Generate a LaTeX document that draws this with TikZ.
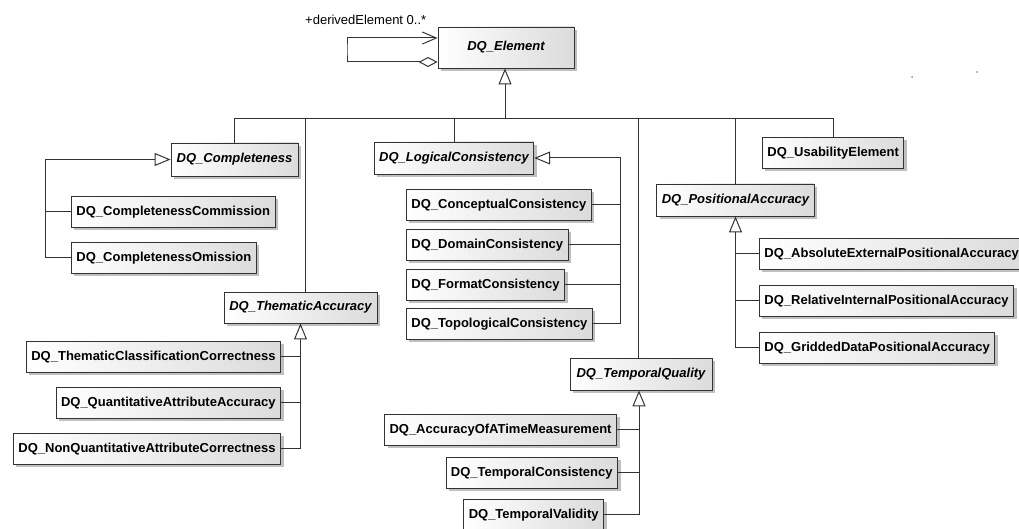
\documentclass[tikz,border=0pt]{standalone}
\usepackage{fontspec}
\setmainfont{Liberation Sans}
\usetikzlibrary{arrows.meta,shadows}
\begin{document}
\begin{tikzpicture}[x=1pt,y=-1pt,
  font=\fontsize{13}{15}\selectfont,
  cls/.style={draw=black!80, line width=0.9pt, left color=white, right color=black!14,
    drop shadow={shadow xshift=3pt, shadow yshift=-3pt, fill=black!45, opacity=0.55},
    minimum height=31pt, inner xsep=5pt, inner ysep=0pt,
    font=\fontsize{13}{15}\selectfont\bfseries},
  abs/.style={cls, font=\fontsize{13}{15}\selectfont\bfseries\itshape},
  link/.style={draw=black!80, line width=1pt},
  gen/.style={link, -{Triangle[open, length=16pt, width=13pt]}},
]
\useasboundingbox (0,0) rectangle (1019,529);
\clip (0,0) rectangle (1019,529);

% abstract classes
\node[abs, minimum width=136pt, minimum height=41pt] (E) at (506,47.5) {DQ\_Element};
\node[abs, minimum width=127pt, minimum height=33pt] (Comp) at (234.5,159.5) {DQ\_Completeness};
\node[abs, minimum width=158pt, minimum height=32pt] (LC) at (454,158) {DQ\_LogicalConsistency};
\node[abs, minimum width=153pt] (TA) at (300.5,307.5) {DQ\_ThematicAccuracy};
\node[abs, minimum width=142pt, minimum height=32pt] (TQ) at (641,374) {DQ\_TemporalQuality};
\node[abs, minimum width=157pt, minimum height=32pt] (PA) at (735.5,200) {DQ\_PositionalAccuracy};

% concrete classes
\node[cls, anchor=north west] (CC) at (71,196) {DQ\_CompletenessCommission};
\node[cls, anchor=north west] (CO) at (71,242) {DQ\_CompletenessOmission};

\node[cls, anchor=north west] (LCc) at (406,189) {DQ\_ConceptualConsistency};
\node[cls, anchor=north west] (LCd) at (406,229) {DQ\_DomainConsistency};
\node[cls, anchor=north west] (LCf) at (406,269) {DQ\_FormatConsistency};
\node[cls, anchor=north west] (LCt) at (406,308) {DQ\_TopologicalConsistency};

\node[cls, anchor=north east] (TAc) at (281,341) {DQ\_ThematicClassificationCorrectness};
\node[cls, anchor=north east] (TAq) at (281,387) {DQ\_QuantitativeAttributeAccuracy};
\node[cls, anchor=north east] (TAn) at (281,433) {DQ\_NonQuantitativeAttributeCorrectness};

\node[cls, anchor=north east] (TQa) at (617,414) {DQ\_AccuracyOfATimeMeasurement};
\node[cls, anchor=north east] (TQc) at (618,457) {DQ\_TemporalConsistency};
\node[cls, anchor=north east] (TQv) at (604,499) {DQ\_TemporalValidity};

\node[cls, anchor=north west] (US) at (762,137) {DQ\_UsabilityElement};
\node[cls, anchor=north west] (PAa) at (759,238) {DQ\_AbsoluteExternalPositionalAccuracy};
\node[cls, anchor=north west] (PAr) at (759,285) {DQ\_RelativeInternalPositionalAccuracy};
\node[cls, anchor=north west] (PAg) at (759,332) {DQ\_GriddedDataPositionalAccuracy};

% self association of DQ_Element
\node[anchor=base west, inner sep=0pt] (lbl) at (305,25) {+derivedElement 0..*};
\coordinate (loop) at (347,50);
\draw[link, {Diamond[open, length=19pt, width=10pt]}-{Straight Barb[length=14pt, width=12pt]}]
  ([yshift=-14.5pt]E.west) -| (loop) |- ([yshift=9.5pt]E.west);

% generalisation bus below DQ_Element
\coordinate (bus) at (505,119);
\draw[gen] (bus) -- (bus |- E.south);
\draw[link] (Comp.north) |- (bus);
\draw[link] ([xshift=5pt]TA.north) |- (bus);
\draw[link] (LC.north) |- (bus);
\draw[link] ([xshift=-3pt]TQ.north) |- (bus);
\draw[link] (PA.north) |- (bus);
\draw[link] (US.north) |- (bus);

% DQ_Completeness subclasses
\coordinate (cs) at (45,0);
\draw[gen] (CO.west) -| (cs |- Comp.west) -- (Comp.west);
\draw[link] (CC.west) -- (cs |- CC.west);

% DQ_LogicalConsistency subclasses
\coordinate (ls) at (620,0);
\draw[gen] (LCt.east) -| (ls |- LC.east) -- (LC.east);
\draw[link] (LCc.east) -- (ls |- LCc.east);
\draw[link] (LCd.east) -- (ls |- LCd.east);
\draw[link] (LCf.east) -- (ls |- LCf.east);

% DQ_ThematicAccuracy subclasses
\draw[gen] (TAn.east) -| (TA.south);
\draw[link] (TAc.east) -- (TA.south |- TAc.east);
\draw[link] (TAq.east) -- (TA.south |- TAq.east);

% DQ_TemporalQuality subclasses
\coordinate (ts) at ([xshift=-2pt]TQ.south);
\draw[gen] (TQv.east) -| (ts);
\draw[link] (TQa.east) -- (ts |- TQa.east);
\draw[link] (TQc.east) -- (ts |- TQc.east);

% DQ_PositionalAccuracy subclasses
\draw[gen] (PAg.west) -| (PA.south);
\draw[link] (PAa.west) -- (PA.south |- PAa.west);
\draw[link] (PAr.west) -- (PA.south |- PAr.west);

% stray specks
\fill[black!45] (912,77) circle (1pt);
\fill[black!45] (977,72) circle (1pt);
\end{tikzpicture}
\end{document}
